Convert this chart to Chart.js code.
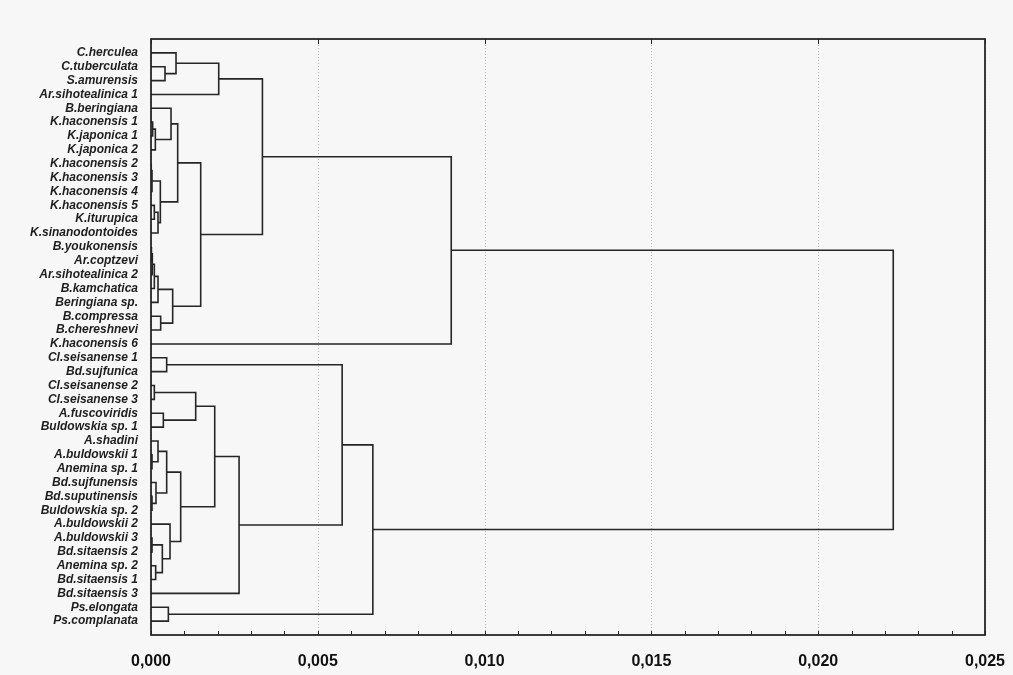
<!DOCTYPE html>
<html>
<head>
<meta charset="utf-8">
<script src="https://cdn.jsdelivr.net/npm/chart.js@4.4.1/dist/chart.umd.min.js"></script>
<style>
  html, body { margin: 0; background: #f7f7f7; }
  #c { display: block; }
</style>
</head>
<body>
<canvas id="c" width="1013" height="675"></canvas>
<script>
// leaves, top to bottom
const leaves = [
  'C.herculea', 'C.tuberculata', 'S.amurensis', 'Ar.sihotealinica 1', 'B.beringiana',
  'K.haconensis 1', 'K.japonica 1', 'K.japonica 2', 'K.haconensis 2', 'K.haconensis 3',
  'K.haconensis 4', 'K.haconensis 5', 'K.iturupica', 'K.sinanodontoides', 'B.youkonensis',
  'Ar.coptzevi', 'Ar.sihotealinica 2', 'B.kamchatica', 'Beringiana sp.', 'B.compressa',
  'B.chereshnevi', 'K.haconensis 6', 'Cl.seisanense 1', 'Bd.sujfunica', 'Cl.seisanense 2',
  'Cl.seisanense 3', 'A.fuscoviridis', 'Buldowskia sp. 1', 'A.shadini', 'A.buldowskii 1',
  'Anemina sp. 1', 'Bd.sujfunensis', 'Bd.suputinensis', 'Buldowskia sp. 2', 'A.buldowskii 2',
  'A.buldowskii 3', 'Bd.sitaensis 2', 'Anemina sp. 2', 'Bd.sitaensis 1', 'Bd.sitaensis 3',
  'Ps.elongata', 'Ps.complanata'
];

// joins: [id, child a, child b, linkage distance]
const upperJoins = [
  ['T1', 'C.tuberculata', 'S.amurensis', 0.00042],
  ['T2', 'C.herculea', 'T1', 0.00075],
  ['T3', 'T2', 'Ar.sihotealinica 1', 0.00203],
  ['K1', 'K.haconensis 1', 'K.japonica 1', 0.00005],
  ['K2', 'K1', 'K.japonica 2', 0.00013],
  ['K3', 'B.beringiana', 'K2', 0.00060],
  ['H1', 'K.haconensis 2', 'K.haconensis 3', 0.00001],
  ['H2', 'H1', 'K.haconensis 4', 0.00003],
  ['H3', 'K.haconensis 5', 'K.iturupica', 0.00010],
  ['H4', 'H3', 'K.sinanodontoides', 0.00021],
  ['H5', 'H2', 'H4', 0.00028],
  ['K4', 'K3', 'H5', 0.00080],
  ['Y1', 'B.youkonensis', 'Ar.coptzevi', 0.00002],
  ['Y2', 'Y1', 'Ar.sihotealinica 2', 0.00004],
  ['Y3', 'Y2', 'B.kamchatica', 0.00010],
  ['Y4', 'Y3', 'Beringiana sp.', 0.00021],
  ['Y5', 'B.compressa', 'B.chereshnevi', 0.00029],
  ['Y6', 'Y4', 'Y5', 0.00065],
  ['K5', 'K4', 'Y6', 0.00149],
  ['T4', 'T3', 'K5', 0.00334],
  ['T5', 'T4', 'K.haconensis 6', 0.00900]
];
const lowerJoins = [
  ['C1', 'Cl.seisanense 1', 'Bd.sujfunica', 0.00047],
  ['C2', 'Cl.seisanense 2', 'Cl.seisanense 3', 0.00010],
  ['C3', 'A.fuscoviridis', 'Buldowskia sp. 1', 0.00037],
  ['C4', 'C2', 'C3', 0.00134],
  ['A1', 'A.buldowskii 1', 'Anemina sp. 1', 0.00003],
  ['A2', 'A.shadini', 'A1', 0.00021],
  ['A3', 'Bd.suputinensis', 'Buldowskia sp. 2', 0.00003],
  ['A4', 'Bd.sujfunensis', 'A3', 0.00015],
  ['A5', 'A2', 'A4', 0.00047],
  ['S1', 'A.buldowskii 3', 'Bd.sitaensis 2', 0.00003],
  ['S2', 'Anemina sp. 2', 'Bd.sitaensis 1', 0.00014],
  ['S3', 'S1', 'S2', 0.00034],
  ['S4', 'A.buldowskii 2', 'S3', 0.00057],
  ['A6', 'A5', 'S4', 0.00089],
  ['A7', 'C4', 'A6', 0.00191],
  ['A8', 'A7', 'Bd.sitaensis 3', 0.00264],
  ['C5', 'C1', 'A8', 0.00573],
  ['P1', 'Ps.elongata', 'Ps.complanata', 0.00052],
  ['C6', 'C5', 'P1', 0.00665]
];
const rootJoin = ['R', 'T5', 'C6', 0.02225];

const xTicks = [0, 0.005, 0.010, 0.015, 0.020, 0.025];
const minorStep = 0.001;

// node positions: leaves at distance 0, joins at the mean of their children
const nodes = {};
leaves.forEach((name, i) => { nodes[name] = { y: i, h: 0 }; });
const links = upperJoins.concat(lowerJoins, [rootJoin]).map(([id, a, b, h]) => {
  const A = nodes[a], B = nodes[b];
  nodes[id] = { y: (A.y + B.y) / 2, h: h };
  return [{ x: A.h, y: A.y }, { x: h, y: A.y }, { x: h, y: B.y }, { x: B.h, y: B.y }];
});

const frame = {
  id: 'frame',
  beforeDraw(chart) {
    const { ctx, width, height } = chart;
    ctx.save();
    ctx.fillStyle = '#f7f7f7';
    ctx.fillRect(0, 0, width, height);
    ctx.restore();
  },
  beforeDatasetsDraw(chart) {
    const { ctx, chartArea: a, scales: { x } } = chart;
    ctx.save();
    ctx.strokeStyle = '#b8b8b8';
    ctx.lineWidth = 1;
    ctx.setLineDash([1, 2]);
    ctx.beginPath();
    xTicks.forEach(v => {
      const px = Math.round(x.getPixelForValue(v)) + 0.5;
      ctx.moveTo(px, a.top);
      ctx.lineTo(px, a.bottom);
    });
    ctx.stroke();
    ctx.restore();
  },
  afterDatasetsDraw(chart) {
    const { ctx, chartArea: a, scales: { x } } = chart;
    ctx.save();
    ctx.strokeStyle = '#262626';
    ctx.lineWidth = 1.8;
    ctx.strokeRect(a.left, a.top, a.right - a.left, a.bottom - a.top);
    ctx.lineWidth = 1;
    ctx.beginPath();
    for (let v = 0; v <= x.max + 1e-9; v += minorStep) {
      const px = Math.round(x.getPixelForValue(v)) + 0.5;
      ctx.moveTo(px, a.bottom);
      ctx.lineTo(px, a.bottom - 4);
    }
    xTicks.forEach(v => {
      const px = Math.round(x.getPixelForValue(v)) + 0.5;
      ctx.moveTo(px, a.top);
      ctx.lineTo(px, a.top + 5);
    });
    ctx.stroke();
    ctx.restore();
  }
};

new Chart(document.getElementById('c'), {
  type: 'scatter',
  data: {
    datasets: links.map(pts => ({
      data: pts,
      showLine: true,
      borderColor: '#262626',
      borderWidth: 1.6,
      pointRadius: 0,
      tension: 0,
      fill: false
    }))
  },
  options: {
    responsive: false,
    animation: false,
    layout: { padding: { top: 39, right: 28, left: 0, bottom: 0 } },
    plugins: { legend: { display: false }, tooltip: { enabled: false } },
    scales: {
      x: {
        type: 'linear',
        min: 0,
        max: 0.025,
        afterFit: s => { s.height = 40; s.paddingLeft = 0; s.paddingRight = 0; },
        grid: { display: false, drawTicks: false },
        border: { display: false },
        ticks: {
          stepSize: 0.005,
          autoSkip: false,
          maxRotation: 0,
          padding: 17,
          color: '#111',
          font: { family: '"Liberation Sans Narrow", "Liberation Sans", Arial, sans-serif', size: 16, weight: 'bold' },
          callback: v => v.toFixed(3).replace('.', ',')
        }
      },
      y: {
        type: 'linear',
        reverse: true,
        min: -1,
        max: leaves.length,
        afterFit: s => { s.width = 151; s.paddingTop = 0; s.paddingBottom = 0; },
        grid: { display: false, drawTicks: false },
        border: { display: false },
        ticks: {
          stepSize: 1,
          autoSkip: false,
          padding: 13,
          color: '#1e1e1e',
          font: { family: '"Liberation Sans", Arial, sans-serif', size: 12, style: 'italic', weight: 'bold' },
          callback: v => (leaves[v] !== undefined ? leaves[v] : '')
        }
      }
    }
  },
  plugins: [frame]
});
</script>
</body>
</html>
